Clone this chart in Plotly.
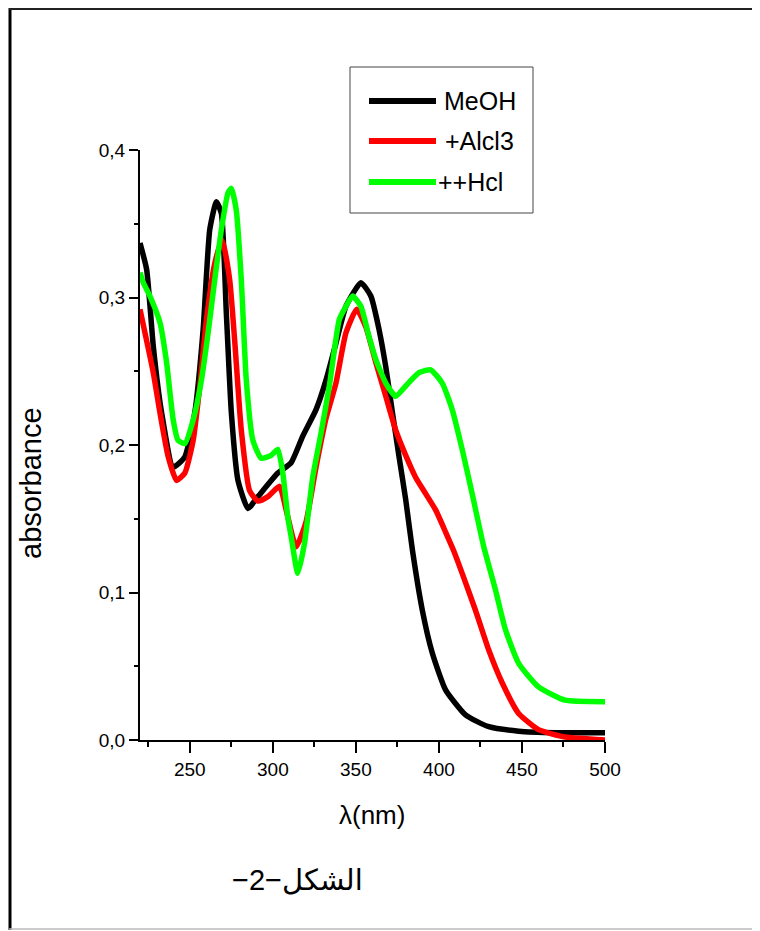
import plotly.graph_objects as go

# ---- data ----
series_names = ["MeOH", "+Alcl3", "++Hcl"]
series_colors = ["#000000", "#ff0000", "#00ff00"]

meoh_wl = [220, 224, 228, 233, 240, 247, 253, 258, 262, 266, 269, 272, 275, 279, 285, 291,
           303, 311, 318, 326, 332, 338, 344, 353, 359, 364, 368, 372, 376, 380, 384, 390,
           396, 404, 416, 430, 448, 470, 500]
meoh_abs = [0.337, 0.319, 0.267, 0.222, 0.185, 0.192, 0.222, 0.278, 0.346, 0.365, 0.357, 0.289,
            0.222, 0.176, 0.157, 0.165, 0.181, 0.188, 0.206, 0.224, 0.244, 0.269, 0.294, 0.310,
            0.301, 0.278, 0.253, 0.222, 0.192, 0.163, 0.129, 0.088, 0.059, 0.034, 0.017, 0.009,
            0.006, 0.005, 0.005]

alcl3_wl = [220, 223, 228, 232, 237, 242, 247, 252, 256, 260, 265, 269.5, 274, 277, 281, 286,
            291, 297, 304, 308, 314, 320, 326, 332, 338, 344, 350.5, 356, 362, 368, 374, 380,
            386, 392, 398, 404, 409, 414, 422, 430, 438, 448, 460, 476, 500]
alcl3_abs = [0.292, 0.276, 0.249, 0.222, 0.192, 0.176, 0.181, 0.203, 0.240, 0.285, 0.323, 0.339,
             0.312, 0.271, 0.210, 0.169, 0.162, 0.165, 0.172, 0.156, 0.131, 0.148, 0.185, 0.218,
             0.242, 0.276, 0.292, 0.280, 0.256, 0.233, 0.210, 0.193, 0.178, 0.167, 0.156, 0.141,
             0.128, 0.113, 0.088, 0.061, 0.039, 0.018, 0.007, 0.002, 0.0]

hcl_wl = [220, 222, 226, 232, 236, 240, 243, 247, 252, 257, 261, 265, 269, 273, 275, 278, 281,
          284, 288, 293, 299, 303, 306, 309, 311, 315, 319, 324, 329, 334, 340, 344, 348, 353,
          358, 362, 368, 374, 380, 388, 395, 402, 408, 414, 420, 427, 434, 440, 448, 460, 476, 500]
hcl_abs = [0.317, 0.310, 0.301, 0.283, 0.256, 0.217, 0.203, 0.201, 0.217, 0.244, 0.276, 0.312,
           0.346, 0.371, 0.374, 0.359, 0.312, 0.244, 0.203, 0.191, 0.193, 0.197, 0.181, 0.151,
           0.138, 0.113, 0.133, 0.178, 0.208, 0.240, 0.285, 0.294, 0.301, 0.294, 0.273, 0.258,
           0.242, 0.233, 0.240, 0.249, 0.251, 0.242, 0.224, 0.197, 0.167, 0.131, 0.102, 0.075,
           0.052, 0.036, 0.027, 0.026]

x_ticks = [250, 300, 350, 400, 450, 500]
y_ticks = [0.0, 0.1, 0.2, 0.3, 0.4]
x_title = "λ(nm)"
y_title = "absorbance"
caption = "−2−الشكل"

# ---- figure ----
# the page body has an 8 px margin, so the figure starts at (8, 8) in the window
OFF = 8
W, H = 760 - OFF, 931 - OFF
FONT = "Arial, Liberation Sans, DejaVu Sans, sans-serif"


def px(x):
    return (x - OFF) / W


def py(y):
    return 1 - (y - OFF) / H


fig = go.Figure()
all_x = [meoh_wl, alcl3_wl, hcl_wl]
all_y = [meoh_abs, alcl3_abs, hcl_abs]
for name, color, xs, ys in zip(series_names, series_colors, all_x, all_y):
    fig.add_trace(go.Scatter(x=xs, y=ys, mode="lines", name=name,
                             line=dict(color=color, width=5.5, shape="spline", smoothing=0.5),
                             showlegend=False))

axis_common = dict(showline=True, linecolor="black", linewidth=2, ticks="outside",
                   tickcolor="black", tickwidth=2, showgrid=False, zeroline=False,
                   automargin=False, tickfont=dict(family=FONT, size=19, color="black"))

fig.update_xaxes(range=[220, 500], domain=[px(140), px(605)], tickvals=x_ticks,
                 ticklen=11, minor=dict(dtick=25, tick0=0, ticklen=5, tickwidth=2,
                                        tickcolor="black", ticks="outside"),
                 **axis_common)
fig.update_yaxes(range=[0, 0.4], domain=[py(740), py(150)], tickvals=y_ticks,
                 tickformat=".1f", ticklen=9,
                 minor=dict(dtick=0.05, tick0=0, ticklen=4, tickwidth=2,
                            tickcolor="black", ticks="outside"),
                 **axis_common)

shapes = []
# outer frame (top edge sits at the very top of the figure)
shapes.append(dict(type="line", xref="paper", yref="paper", x0=px(10), x1=px(10), y0=py(2), y1=py(930),
                   line=dict(color="black", width=3)))
shapes.append(dict(type="line", xref="paper", yref="paper", x0=px(9), x1=px(758), y0=py(3), y1=py(3),
                   line=dict(color="#222222", width=2)))
shapes.append(dict(type="line", xref="paper", yref="paper", x0=px(9), x1=px(758), y0=py(9), y1=py(9),
                   line=dict(color="#222222", width=2)))
shapes.append(dict(type="line", xref="paper", yref="paper", x0=px(756), x1=px(756), y0=py(2), y1=py(930),
                   line=dict(color="#777777", width=2)))
shapes.append(dict(type="line", xref="paper", yref="paper", x0=px(9), x1=px(758), y0=py(929), y1=py(929),
                   line=dict(color="#bbbbbb", width=1.5)))
# legend box
shapes.append(dict(type="rect", xref="paper", yref="paper", x0=px(350), x1=px(533), y0=py(213), y1=py(67),
                   line=dict(color="#444444", width=1), fillcolor="white"))

annotations = []
leg_rows = [101, 141, 182]
leg_text_x = [442, 443, 436]
for name, color, yy, tx in zip(series_names, series_colors, leg_rows, leg_text_x):
    shapes.append(dict(type="line", xref="paper", yref="paper", x0=px(369), x1=px(436),
                       y0=py(yy), y1=py(yy), line=dict(color=color, width=6)))
    annotations.append(dict(text=name, xref="paper", yref="paper", x=px(tx), y=py(yy),
                            xanchor="left", yanchor="middle", showarrow=False,
                            font=dict(family=FONT, size=25, color="black")))

annotations.append(dict(text=x_title, xref="paper", yref="paper", x=px(372), y=py(815),
                        xanchor="center", yanchor="middle", showarrow=False,
                        font=dict(family=FONT, size=26, color="black")))
annotations.append(dict(text=y_title, xref="paper", yref="paper", x=px(31), y=py(483),
                        xanchor="center", yanchor="middle", showarrow=False, textangle=-90,
                        font=dict(family=FONT, size=29, color="black")))
annotations.append(dict(text=caption, xref="paper", yref="paper", x=px(297), y=py(880),
                        xanchor="center", yanchor="middle", showarrow=False,
                        font=dict(family=FONT, size=29, color="black")))

fig.update_layout(width=W, height=H, margin=dict(l=0, r=0, t=0, b=0),
                  paper_bgcolor="white", plot_bgcolor="white", separators=", ",
                  showlegend=False, shapes=shapes, annotations=annotations)

fig.write_html("out.html")
